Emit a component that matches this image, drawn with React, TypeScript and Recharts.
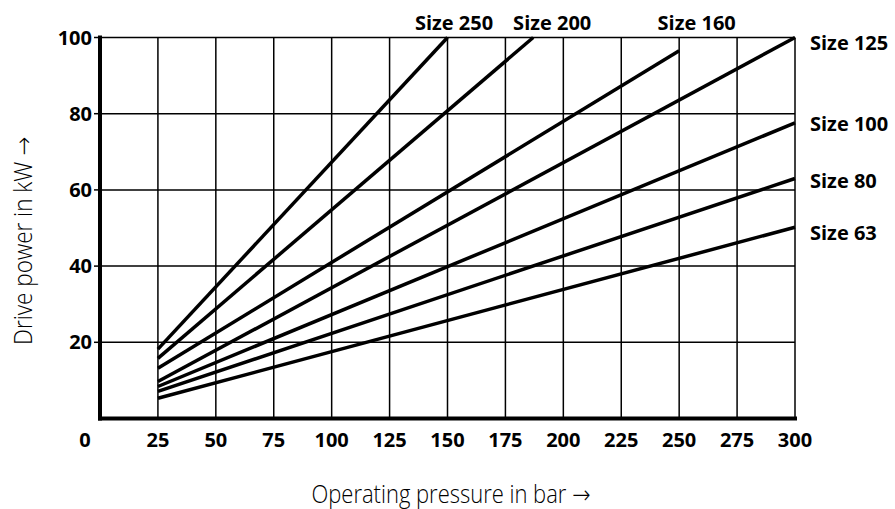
import { CartesianGrid, Line, LineChart, XAxis, YAxis } from "recharts";

// pump sizes, drawn from the flattest line up
const SIZES = ["Size 63", "Size 80", "Size 100", "Size 125", "Size 160", "Size 200", "Size 250"];
const START_PRESSURE = [25, 25, 25, 25, 25, 25, 25];
const START_POWER = [5.3, 7.1, 8.4, 9.7, 13.2, 15.8, 18.2];
const END_PRESSURE = [300, 300, 300, 300, 250, 187, 150];
const END_POWER = [50.2, 63.0, 77.6, 100, 96.5, 100, 100];

const PRESSURE_TICKS = [0, 25, 50, 75, 100, 125, 150, 175, 200, 225, 250, 275, 300];
const POWER_TICKS = [20, 40, 60, 80, 100];

// where each size name sits relative to the end of its line
const LABEL_PLACEMENT = [
  { dx: 15, dy: 13, anchor: "start" },
  { dx: 15, dy: 10, anchor: "start" },
  { dx: 15, dy: 8, anchor: "start" },
  { dx: 15, dy: 12.5, anchor: "start" },
  { dx: 17.5, dy: -21, anchor: "middle" },
  { dx: 19, dy: -7.5, anchor: "middle" },
  { dx: 6.5, dy: -7.5, anchor: "middle" },
];

const BOLD_FONT = "'Open Sans', 'Noto Sans', sans-serif";
// Open Sans has no arrow glyph, DejaVu fills it in
const TITLE_FONT = "'Open Sans', 'DejaVu Sans', sans-serif";

type Point = { pressure: number; power: number };

const seriesData: Point[][] = SIZES.map((_, i) => [
  { pressure: START_PRESSURE[i], power: START_POWER[i] },
  { pressure: END_PRESSURE[i], power: END_POWER[i] },
]);

function PressureTick({ x, y, payload }: any) {
  // the 0 sits left of the corner, like the print
  const shift = payload.value === 0 ? -15 : 0;
  return (
    <text
      x={x + shift}
      y={y + 28.5}
      textAnchor="middle"
      fill="#000"
      fontSize={20}
      fontWeight={700}
      fontFamily={BOLD_FONT}
    >
      {payload.value}
    </text>
  );
}

function sizeLabel(i: number) {
  return (props: any) => {
    if (props.index !== 1) return null;
    const place = LABEL_PLACEMENT[i];
    return (
      <text
        key={SIZES[i]}
        x={props.x + place.dx}
        y={props.y + place.dy}
        textAnchor={place.anchor as any}
        fill="#000"
        fontSize={20}
        fontWeight={700}
        fontFamily={BOLD_FONT}
      >
        {SIZES[i]}
      </text>
    );
  };
}

export default function App() {
  return (
    <div style={{ position: "absolute", left: 0, top: 0, width: 895, height: 509, background: "#fff" }}>
      <LineChart width={895} height={509} margin={{ top: 37.5, right: 100, bottom: 0, left: 0 }}>
        <CartesianGrid stroke="#000" strokeWidth={1.5} strokeOpacity={1} />
        <XAxis
          type="number"
          dataKey="pressure"
          domain={[0, 300]}
          ticks={PRESSURE_TICKS}
          height={90.5}
          tickLine={false}
          tickSize={0}
          tickMargin={0}
          tick={<PressureTick />}
          axisLine={{ stroke: "#000", strokeWidth: 4, strokeLinecap: "square" }}
          interval={0}
          label={{
            content: ({ viewBox }: any) => (
              <text
                x={viewBox.x + viewBox.width / 2 - 136}
                y={503}
                textLength={279}
                lengthAdjust="spacingAndGlyphs"
                fill="#000"
                fontSize={25}
                fontWeight={300}
                fontFamily={TITLE_FONT}
              >
                Operating pressure in bar →
              </text>
            ),
          }}
        />
        <YAxis
          type="number"
          domain={[0, 100]}
          ticks={POWER_TICKS}
          width={100}
          tickSize={6}
          tickMargin={2}
          tickLine={{ stroke: "#000", strokeWidth: 1.5 }}
          axisLine={{ stroke: "#000", strokeWidth: 4, strokeLinecap: "square" }}
          tick={{ fill: "#000", fontSize: 20, fontWeight: 700, fontFamily: BOLD_FONT }}
          interval={0}
          label={{
            content: ({ viewBox }: any) => {
              const sy = viewBox.y + viewBox.height / 2 + 117;
              return (
                <text
                  x={32}
                  y={sy}
                  transform={`rotate(-90, 32, ${sy})`}
                  textLength={208}
                  lengthAdjust="spacingAndGlyphs"
                  fill="#000"
                  fontSize={25}
                  fontWeight={300}
                  fontFamily={TITLE_FONT}
                >
                  Drive power in kW →
                </text>
              );
            },
          }}
        />
        {SIZES.map((name, i) => (
          <Line
            key={name}
            data={seriesData[i]}
            dataKey="power"
            name={name}
            stroke="#000"
            strokeWidth={3.5}
            dot={false}
            activeDot={false}
            isAnimationActive={false}
            label={sizeLabel(i)}
          />
        ))}
      </LineChart>
    </div>
  );
}
